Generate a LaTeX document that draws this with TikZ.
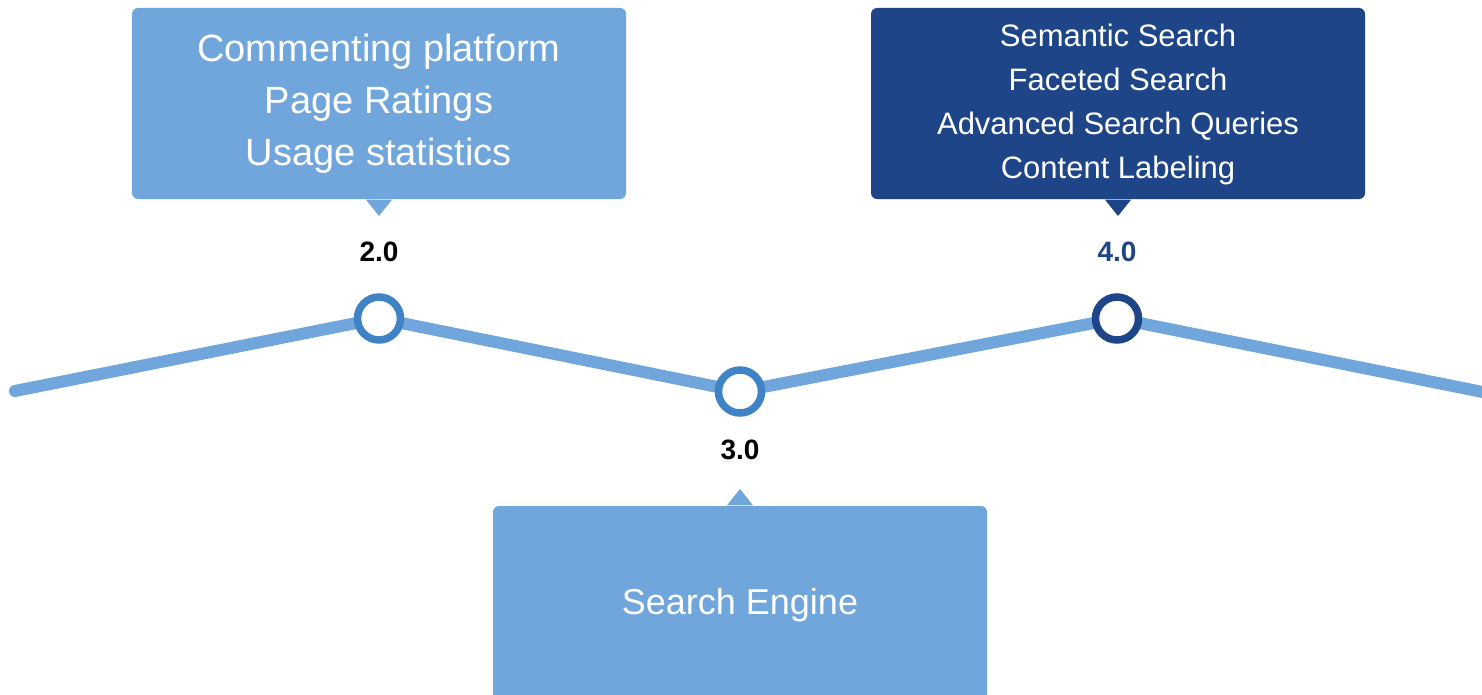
\documentclass[tikz,border=0pt]{standalone}
\usepackage{fontspec}
\setmainfont{Liberation Sans}
\usetikzlibrary{calc,backgrounds}
\definecolor{lightbox}{HTML}{70A6DB}
\definecolor{darkbox}{HTML}{1E4588}
\definecolor{ringblue}{HTML}{3F83C6}
\definecolor{track}{HTML}{70A6DB}
\tikzset{
  callout/.style={rectangle, rounded corners=6pt, minimum width=494pt, minimum height=191pt, inner sep=0pt, text=white, align=center},
  ring/.style={circle, draw=ringblue, line width=7.5pt, fill=white, minimum size=43pt, inner sep=0pt},
  ringdark/.style={ring, draw=darkbox},
  verlabel/.style={font=\fontsize{28}{32}\selectfont\bfseries, inner sep=0pt},
  trackline/.style={draw=track, line width=12pt, line cap=round, line join=round},
}
\begin{document}
\begin{tikzpicture}[x=1pt,y=-1pt]
\useasboundingbox (0,0) rectangle (1482,695);
\clip (0,0) rectangle (1482,695);
% boxes
\node[callout, fill=lightbox] (b1) at (379,103.5) {};
\node[callout, fill=darkbox] (b2) at (1118,103.5) {};
\node[callout, fill=lightbox, minimum height=194pt] (b3) at (740,603) {};
\fill[lightbox] ($(b1.south)+(-13,0.5)$) -- ($(b1.south)+(13,0.5)$) -- (379,216) -- cycle;
\fill[darkbox] ($(b2.south)+(-13,0.5)$) -- ($(b2.south)+(13,0.5)$) -- (1118,216) -- cycle;
\fill[lightbox] ($(b3.north)+(-13,-0.5)$) -- ($(b3.north)+(13,-0.5)$) -- (740,489) -- cycle;
% box texts
\node[text=white, align=center, font=\fontsize{38}{52}\selectfont, inner sep=0pt] (t1) at (379,104) {Commenting platform\\Page Ratings\\Usage statistics};
\node[text=white, align=center, font=\fontsize{31}{44}\selectfont, inner sep=0pt] (t2) at (1118,104) {Semantic Search\\Faceted Search\\Advanced Search Queries\\Content Labeling};
\node[text=white, align=center, font=\fontsize{36}{44}\selectfont, inner sep=0pt] (t3) at (740,605) {Search Engine};
% track
\coordinate (start) at (15,391);
\coordinate (end) at (1500,395.5);
\node[ring] (c2) at (379,318.5) {};
\node[ring] (c3) at (740,391.5) {};
\node[ringdark] (c4) at (1117,318.5) {};
\begin{scope}[on background layer]
\draw[trackline] (start) -- (c2.center) -- (c3.center) -- (c4.center) -- (end);
\end{scope}
% labels
\node[verlabel] (l2) at (379,252) {2.0};
\node[verlabel] (l3) at (740,450) {3.0};
\node[verlabel, text=darkbox] (l4) at (1117,252) {4.0};
\end{tikzpicture}
\end{document}
